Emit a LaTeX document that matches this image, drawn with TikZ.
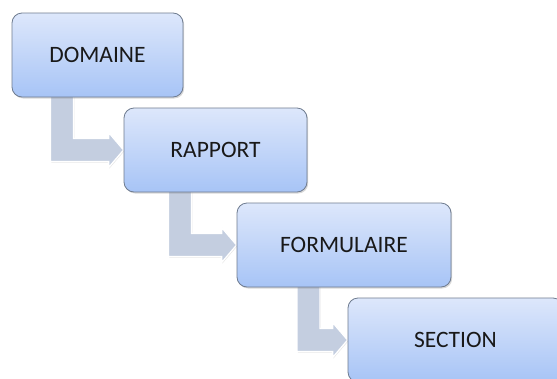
\documentclass[tikz,border=0pt]{standalone}
\usepackage{fontspec}
\setmainfont{Carlito}
\usetikzlibrary{positioning, calc, shadows, backgrounds}
\definecolor{boxtop}{HTML}{DDE7FB}
\definecolor{boxbottom}{HTML}{A7C4F6}
\definecolor{boxline}{HTML}{6F7C90}
\definecolor{arrowfill}{HTML}{C4CEE0}
\tikzset{
    x=1pt, y=-1pt, % image coordinates, y going down
    level/.style={rectangle, rounded corners=10pt, draw=boxline, line width=0.8pt,
        top color=boxtop, bottom color=boxbottom, minimum height=84pt,
        font=\fontsize{23.5}{28}\selectfont, text=black!90,
        drop shadow={opacity=0.3, shadow xshift=1.2pt, shadow yshift=-1.5pt}}, % one box of the hierarchy
    elbow/.style={fill=arrowfill, draw=white, line width=1.3pt,
        drop shadow={opacity=0.2, shadow xshift=0.8pt, shadow yshift=-1pt}}, % bent arrow between two levels
}

\begin{document}
\begin{tikzpicture}
    \useasboundingbox (0,0) rectangle (557,378);
    \clip (0,0) rectangle (557,378);

    \node[level, minimum width=171pt] (dom) at (97.5,55) {DOMAINE};
    \node[level, minimum width=183pt] (rap) at (215.5,150) {RAPPORT};
    \node[level, minimum width=214pt] (frm) at (344,245) {FORMULAIRE};
    \node[level, minimum width=215pt] (sec) at (455.5,340) {SECTION};

    \begin{scope}[on background layer]
        \fill[white] (0,0) rectangle (557,378);
        \foreach \a/\b in {dom/rap, rap/frm, frm/sec}
            \draw[elbow] ($(\a.south)+(-47,-2)$) |- ($(\b.west)+(-15,11.5)$)
                -- ($(\b.west)+(-15,17.5)$) -- (\b.west) -- ($(\b.west)+(-15,-17.5)$)
                -- ($(\b.west)+(-15,-11.5)$) -| ($(\a.south)+(-24,-2)$) -- cycle;
    \end{scope}
\end{tikzpicture}
\end{document}
